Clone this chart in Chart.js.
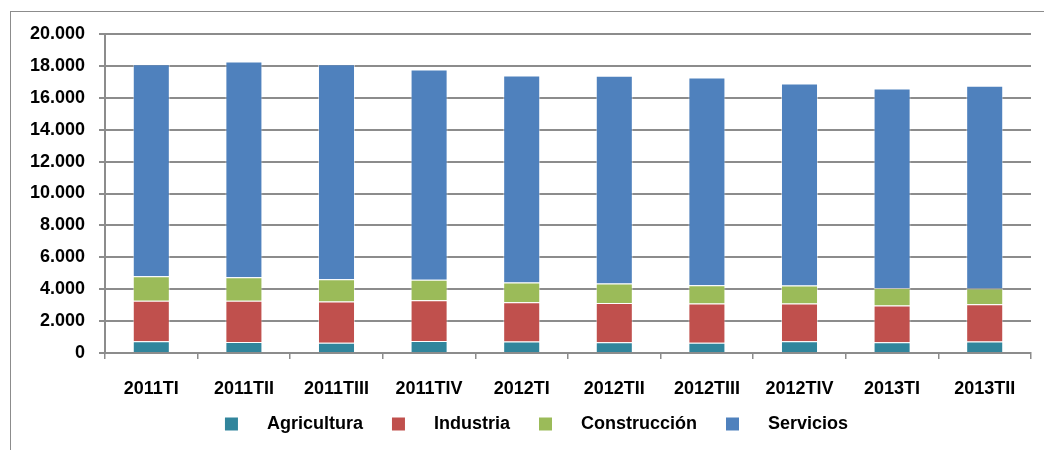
<!DOCTYPE html>
<html lang="es">
<head>
  <meta charset="UTF-8">
  <title>Ocupados por sector</title>
  <script src="https://cdn.jsdelivr.net/npm/chart.js"></script>
  <style>
    html, body {
      margin: 0;
      padding: 0;
      background: #fff;
      overflow: hidden;
    }
    .marco {
      position: absolute;
      left: 10px;
      top: 11px;
      width: 1200px;
      height: 600px;
      border: 1px solid #8c8c8c;
    }
    .caja {
      position: absolute;
      left: 0;
      top: 0;
      width: 1044px;
      height: 450px;
    }
  </style>
</head>
<body>
<div class="marco"></div>
<div class="caja">
  <canvas id="sectorChart" width="1044" height="450"></canvas>
</div>

<script>
  const trimestres = ['2011TI', '2011TII', '2011TIII', '2011TIV', '2012TI', '2012TII', '2012TIII', '2012TIV', '2013TI', '2013TII'];
  const agricultura = [740, 695, 650, 755, 715, 675, 650, 735, 675, 715];
  const industria = [2540, 2585, 2585, 2545, 2460, 2460, 2460, 2375, 2310, 2335];
  const construccion = [1535, 1470, 1390, 1285, 1240, 1220, 1135, 1115, 1095, 990];
  const servicios = [13295, 13530, 13485, 13190, 12985, 13025, 13030, 12675, 12510, 12720];

  const fuente = { family: "'Liberation Sans', Arial, sans-serif", size: 18, weight: 'bold' };
  const gris = '#8c8c8c';

  const serie = (label, data, color) => ({
    label,
    data,
    backgroundColor: color,
    borderColor: 'rgba(255,255,255,0.45)',
    borderWidth: 1,
    barPercentage: 0.4,
    categoryPercentage: 1
  });

  // la leyenda del original está algo desplazada a la derecha
  const moverLeyenda = {
    id: 'moverLeyenda',
    afterLayout(chart) {
      chart.legend.left += 21;
      chart.legend.right += 21;
    }
  };

  new Chart(document.getElementById('sectorChart'), {
    type: 'bar',
    data: {
      labels: trimestres,
      datasets: [
        serie('Agricultura', agricultura, '#31859C'),
        serie('Industria', industria, '#C0504D'),
        serie('Construcción', construccion, '#9BBB59'),
        serie('Servicios', servicios, '#4F81BD')
      ]
    },
    plugins: [moverLeyenda],
    options: {
      responsive: false,
      animation: false,
      layout: { padding: { left: 0, right: 13, top: 34, bottom: 7 } },
      scales: {
        x: {
          stacked: true,
          grid: { drawOnChartArea: false, color: gris, tickLength: 6, lineWidth: 1.5 },
          border: { color: gris, width: 2 },
          ticks: { color: '#000', font: fuente, padding: 19, maxRotation: 0 },
          afterFit: s => { s.height = 48; }
        },
        y: {
          stacked: true,
          min: 0,
          max: 20000,
          grid: { color: gris, lineWidth: 2, tickLength: 6 },
          border: { color: gris, width: 2 },
          ticks: {
            stepSize: 2000,
            color: '#000',
            font: fuente,
            padding: 14,
            callback: v => v.toString().replace(/\B(?=(\d{3})+(?!\d))/g, '.')
          },
          afterFit: s => { s.width = 105; }
        }
      },
      plugins: {
        tooltip: { enabled: false },
        legend: {
          position: 'bottom',
          labels: {
            color: '#000',
            font: fuente,
            boxWidth: 13,
            boxHeight: 13,
            padding: 14,
            generateLabels: chart => {
              const items = Chart.defaults.plugins.legend.labels.generateLabels(chart);
              return items.map((it, i) => {
                it.text = '    ' + it.text + (i < items.length - 1 ? '   ' : '');
                it.lineWidth = 0;
                return it;
              });
            }
          }
        }
      }
    }
  });
</script>
</body>
</html>
